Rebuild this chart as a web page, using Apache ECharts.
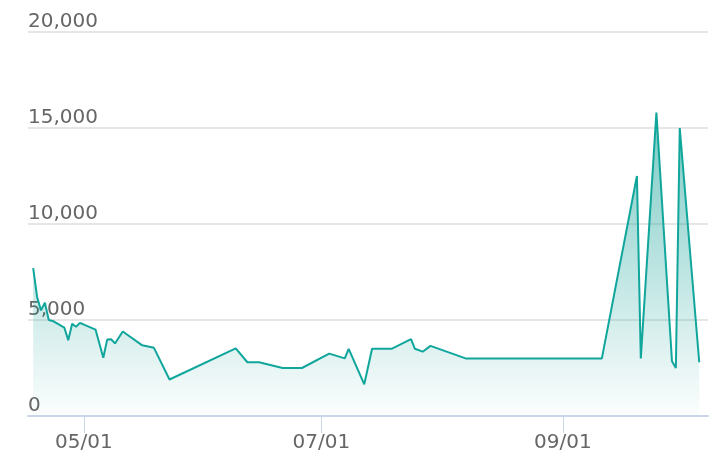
<!DOCTYPE html>
<html>
<head>
<meta charset="utf-8">
<script src="https://cdn.jsdelivr.net/npm/echarts@6/dist/echarts.min.js"></script>
<style>html,body{margin:0;padding:0;background:#fff}#c{width:724px;height:476px}</style>
</head>
<body>
<div id="c"></div>
<script>
const dates = ['2023-04-18','2023-04-19','2023-04-20','2023-04-21','2023-04-22','2023-04-23','2023-04-26','2023-04-27','2023-04-28','2023-04-29','2023-04-30','2023-05-04','2023-05-06','2023-05-07','2023-05-08','2023-05-09','2023-05-11','2023-05-16','2023-05-19','2023-05-23','2023-06-09','2023-06-12','2023-06-15','2023-06-21','2023-06-26','2023-07-03','2023-07-07','2023-07-08','2023-07-12','2023-07-14','2023-07-19','2023-07-24','2023-07-25','2023-07-27','2023-07-29','2023-08-07','2023-09-11','2023-09-20','2023-09-21','2023-09-25','2023-09-29','2023-09-30','2023-10-01','2023-10-06'];
const values = [7700,6200,5500,5900,5000,4950,4600,3950,4800,4650,4850,4500,3030,3980,4000,3780,4400,3680,3550,1900,3520,2800,2800,2500,2500,3250,3000,3500,1650,3500,3500,4000,3500,3350,3650,3000,3000,12500,3000,15800,2850,2500,15000,2800];
const yTicks = [0,5000,10000,15000,20000];
const xMin = '2023-04-16T16:00:00';
const xMax = '2023-10-08T06:00:00';

const chart = echarts.init(document.getElementById('c'), null, {renderer:'canvas'});
const seriesData = dates.map((d,i)=>[d, values[i]]);
chart.setOption({
  animation:false,
  grid:{left:28,right:16,top:32,bottom:60,containLabel:false},
  xAxis:{
    type:'time',
    min:xMin, max:xMax,
    splitNumber:2,
    axisLine:{lineStyle:{color:'#ccd6eb',width:2}},
    axisTick:{show:true,length:17,lineStyle:{color:'#ccd6eb',width:1}},
    splitLine:{show:false},
    axisLabel:{
      color:'#666',fontSize:20,fontFamily:'DejaVu Sans',margin:17,
      showMinLabel:false,showMaxLabel:false,
      formatter:'{MM}/{dd}'
    }
  },
  yAxis:{
    type:'value',
    min:yTicks[0],max:yTicks[yTicks.length-1],interval:yTicks[1]-yTicks[0],
    axisLine:{show:false},axisTick:{show:false},
    splitLine:{lineStyle:{color:'#e6e6e6',width:2}},
    axisLabel:{
      inside:true,margin:0,align:'left',verticalAlign:'bottom',
      color:'#666',fontSize:20,fontFamily:'DejaVu Sans',
      formatter:v=>v.toLocaleString('en-US')
    }
  },
  series:[{
    type:'line',
    data:seriesData,
    showSymbol:false,
    symbol:'none',
    lineStyle:{color:'#10a69c',width:2},
    areaStyle:{
      color:new echarts.graphic.LinearGradient(0,0,0,1,[
        {offset:0,color:'rgba(18,160,150,0.8)'},
        {offset:1,color:'rgba(18,160,150,0.02)'}
      ])
    }
  }]
});
</script>
</body>
</html>
